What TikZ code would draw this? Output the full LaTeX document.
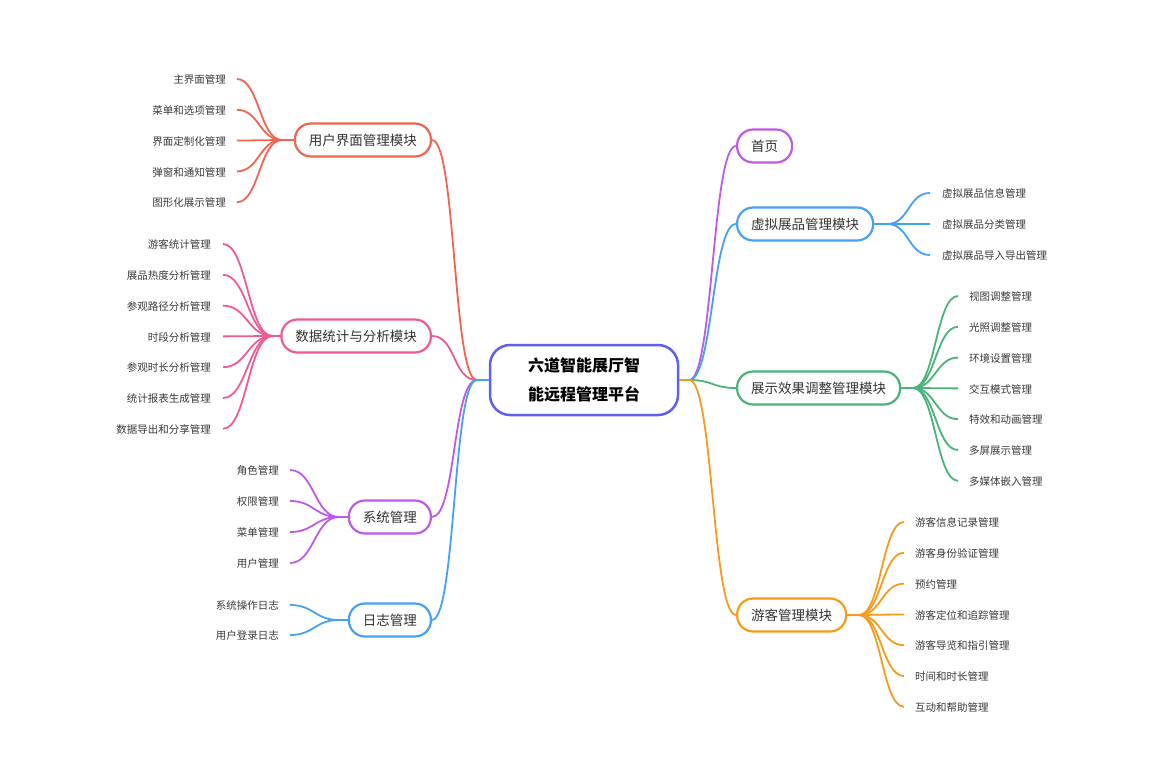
\documentclass[tikz,border=0pt]{standalone}
\usepackage{fontspec}
\setmainfont{Noto Sans CJK SC}
\definecolor{cred}{RGB}{240,100,82}
\definecolor{cpink}{RGB}{238,90,150}
\definecolor{cpurple}{RGB}{190,90,230}
\definecolor{cblue}{RGB}{70,160,245}
\definecolor{cgreen}{RGB}{72,180,120}
\definecolor{corange}{RGB}{245,155,30}
\definecolor{croot}{RGB}{95,95,240}
\begin{document}
\begin{tikzpicture}[x=1pt,y=-1pt,
    box/.style={draw=#1, line width=2.2pt, fill=white, rounded corners=16pt, minimum height=33pt, inner xsep=14pt, font=\fontsize{13.5}{15}\selectfont, text=black!80},
    leaf/.style={font=\fontsize{10.5}{12}\selectfont, text=black!78, inner sep=0pt, text height=10.5pt, text depth=1.2pt},
    link/.style={draw=#1, line width=1.8pt}]
    \useasboundingbox (0,0) rectangle (1151,767);
    % centre
    \node[draw=croot, line width=2.5pt, fill=white, rounded corners=20pt, minimum width=188pt, minimum height=70pt, align=center, font=\fontsize{16}{29}\selectfont\bfseries] (root) at (584,380) {六道智能展厅智\\能远程管理平台};
    % left branches
    \node[box=cred, anchor=east] (ui) at (432,140) {用户界面管理模块};
    \node[box=cpink, anchor=east] (data) at (432,336) {数据统计与分析模块};
    \node[box=cpurple, anchor=east] (sys) at (432,517) {系统管理};
    \node[box=cblue, anchor=east] (log) at (432,620) {日志管理};
    % right branches
    \node[box=cpurple, anchor=west] (home) at (736,146) {首页};
    \node[box=cblue, anchor=west] (exhibit) at (736,224) {虚拟展品管理模块};
    \node[box=cgreen, anchor=west] (effect) at (736,388) {展示效果调整管理模块};
    \node[box=corange, anchor=west] (visitor) at (736,615) {游客管理模块};
    % root links
    \foreach \b/\c in {ui/cred,data/cpink,sys/cpurple,log/cblue}{
        \draw[link=\c] (root.west) -- ++(-12,0) .. controls +(-24,0) and +(24,0) .. (\b.east);
    }
    \foreach \b/\c in {home/cpurple,exhibit/cblue,effect/cgreen,visitor/corange}{
        \draw[link=\c] (root.east) -- ++(10,0) .. controls +(24,0) and +(-24,0) .. (\b.west);
    }
    % left leaves
    \foreach \t [count=\i from 0] in {主界面管理,菜单和选项管理,界面定制化管理,弹窗和通知管理,图形化展示管理}{
        \node[leaf, anchor=east] (ui-\i) at (226,79+30.8*\i) {\t};
        \draw[link=cred] ([xshift=11pt]ui-\i.east) .. controls +(22,0) and +(-22,0) .. ([xshift=-12pt]ui.west) -- (ui.west);
    }
    \foreach \t [count=\i from 0] in {游客统计管理,展品热度分析管理,参观路径分析管理,时段分析管理,参观时长分析管理,统计报表生成管理,数据导出和分享管理}{
        \node[leaf, anchor=east] (data-\i) at (211,244+30.8*\i) {\t};
        \draw[link=cpink] ([xshift=12pt]data-\i.east) .. controls +(24,0) and +(-24,0) .. ([xshift=-8pt]data.west) -- (data.west);
    }
    \foreach \t [count=\i from 0] in {角色管理,权限管理,菜单管理,用户管理}{
        \node[leaf, anchor=east] (sys-\i) at (279,470+31*\i) {\t};
        \draw[link=cpurple] ([xshift=11pt]sys-\i.east) .. controls +(24,0) and +(-24,0) .. ([xshift=-9pt]sys.west) -- (sys.west);
    }
    \foreach \t [count=\i from 0] in {系统操作日志,用户登录日志}{
        \node[leaf, anchor=east] (log-\i) at (279,605+30*\i) {\t};
        \draw[link=cblue] ([xshift=11pt]log-\i.east) .. controls +(24,0) and +(-24,0) .. ([xshift=-9pt]log.west) -- (log.west);
    }
    % right leaves
    \foreach \t [count=\i from 0] in {虚拟展品信息管理,虚拟展品分类管理,虚拟展品导入导出管理}{
        \node[leaf, anchor=west] (exhibit-\i) at (942,193+31*\i) {\t};
        \draw[link=cblue] (exhibit.east) -- ++(13,0) .. controls +(22,0) and +(-22,0) .. ([xshift=-12pt]exhibit-\i.west);
    }
    \foreach \t [count=\i from 0] in {视图调整管理,光照调整管理,环境设置管理,交互模式管理,特效和动画管理,多屏展示管理,多媒体嵌入管理}{
        \node[leaf, anchor=west] (effect-\i) at (969,296+30.8*\i) {\t};
        \draw[link=cgreen] (effect.east) -- ++(12,0) .. controls +(22,0) and +(-22,0) .. ([xshift=-11pt]effect-\i.west);
    }
    \foreach \t [count=\i from 0] in {游客信息记录管理,游客身份验证管理,预约管理,游客定位和追踪管理,游客导览和指引管理,时间和时长管理,互动和帮助管理}{
        \node[leaf, anchor=west] (visitor-\i) at (915,522+30.8*\i) {\t};
        \draw[link=corange] (visitor.east) -- ++(12,0) .. controls +(22,0) and +(-22,0) .. ([xshift=-11pt]visitor-\i.west);
    }
\end{tikzpicture}
\end{document}
